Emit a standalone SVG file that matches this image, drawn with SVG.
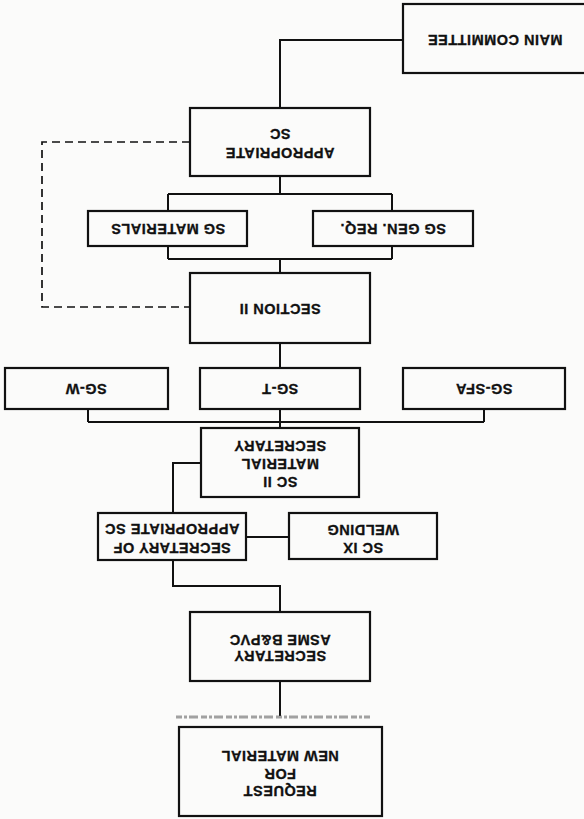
<svg xmlns="http://www.w3.org/2000/svg" width="584" height="819" viewBox="0 0 584 819">
<style>
.bg{fill:#fbfbfa}
.box{fill:#fbfbfa;stroke:#111;stroke-width:2.2}
.ln{fill:none;stroke:#111;stroke-width:2}
.dash{fill:none;stroke:#111;stroke-width:1.7;stroke-dasharray:8 5}
.t{font-family:"Liberation Sans",Arial,sans-serif;font-weight:bold;font-size:14.5px;fill:#111;stroke:#111;stroke-width:0.3;text-anchor:middle;dominant-baseline:central;letter-spacing:0.5px}
</style>
<rect class="bg" x="0" y="0" width="584" height="819"/>
<g id="connectors">
<path class="ln" d="M403 40 H280 V108"/>
<path class="ln" d="M280 176 V194 M168 194 H392 M168 194 V259 M392 194 V259 M168 259 H392 M280 259 V273"/>
<path class="dash" d="M190 142 H42 V307 H190"/>
<path class="ln" d="M280 343 V368 M280 409 V428 M88 409 V422 M484 409 V422 M88 422 H484"/>
<path class="ln" d="M201 463 H173 V513"/>
<path class="ln" d="M246 537 H289"/>
<path class="ln" d="M173 560 V586 H280 V612"/>
<path class="ln" d="M280 681 V716"/>
<path d="M176 717 H370" fill="none" stroke="#666" stroke-width="3" stroke-dasharray="6 2 3 2 9 3" opacity="0.6"/>
</g>
<g id="main-committee">
<rect class="box" x="403" y="4" width="190" height="69"/>
<text class="t" transform="rotate(180 495 40)" x="495" y="40">MAIN COMMITTEE</text>
</g>
<g id="appropriate-sc">
<rect class="box" x="190" y="108" width="180" height="68"/>
<g transform="rotate(180 280 143.5)"><text class="t" x="280" y="134">APPROPRIATE</text><text class="t" x="280" y="153">SC</text></g>
</g>
<g id="sg-materials">
<rect class="box" x="88" y="211" width="159" height="35"/>
<text class="t" transform="rotate(180 168 229)" x="168" y="229">SG MATERIALS</text>
</g>
<g id="sg-gen-req">
<rect class="box" x="313" y="211" width="160" height="35"/>
<text class="t" transform="rotate(180 393 229)" x="393" y="229">SG GEN. REQ.</text>
</g>
<g id="section-ii">
<rect class="box" x="190" y="273" width="180" height="70"/>
<text class="t" transform="rotate(180 280 309)" x="280" y="309">SECTION II</text>
</g>
<g id="sg-w">
<rect class="box" x="5" y="368" width="163" height="41"/>
<text class="t" transform="rotate(180 86 389)" x="86" y="389">SG-W</text>
</g>
<g id="sg-t">
<rect class="box" x="200" y="368" width="160" height="41"/>
<text class="t" transform="rotate(180 280 389)" x="280" y="389">SG-T</text>
</g>
<g id="sg-sfa">
<rect class="box" x="403" y="368" width="162" height="41"/>
<text class="t" transform="rotate(180 484 389)" x="484" y="389">SG-SFA</text>
</g>
<g id="sc-ii-material-secretary">
<rect class="box" x="201" y="428" width="158" height="69"/>
<g transform="rotate(180 280 464)"><text class="t" x="280" y="446">SC II</text><text class="t" x="280" y="464">MATERIAL</text><text class="t" x="280" y="482">SECRETARY</text></g>
</g>
<g id="secretary-of-appropriate-sc">
<rect class="box" x="98" y="513" width="148" height="47"/>
<g transform="rotate(180 172 538.5)"><text class="t" x="172" y="529">SECRETARY OF</text><text class="t" x="172" y="548">APPROPRIATE SC</text></g>
</g>
<g id="sc-ix-welding">
<rect class="box" x="289" y="513" width="148" height="46"/>
<g transform="rotate(180 363 539)"><text class="t" x="363" y="530">SC IX</text><text class="t" x="363" y="548">WELDING</text></g>
</g>
<g id="secretary-asme">
<rect class="box" x="190" y="612" width="180" height="69"/>
<g transform="rotate(180 280 648)"><text class="t" x="280" y="640">SECRETARY</text><text class="t" x="280" y="656">ASME B&amp;PVC</text></g>
</g>
<g id="request-new-material">
<rect class="box" x="179" y="727" width="203" height="89"/>
<g transform="rotate(180 280 773.5)"><text class="t" x="280" y="756">REQUEST</text><text class="t" x="280" y="773.5">FOR</text><text class="t" x="280" y="791">NEW MATERIAL</text></g>
</g>
</svg>
